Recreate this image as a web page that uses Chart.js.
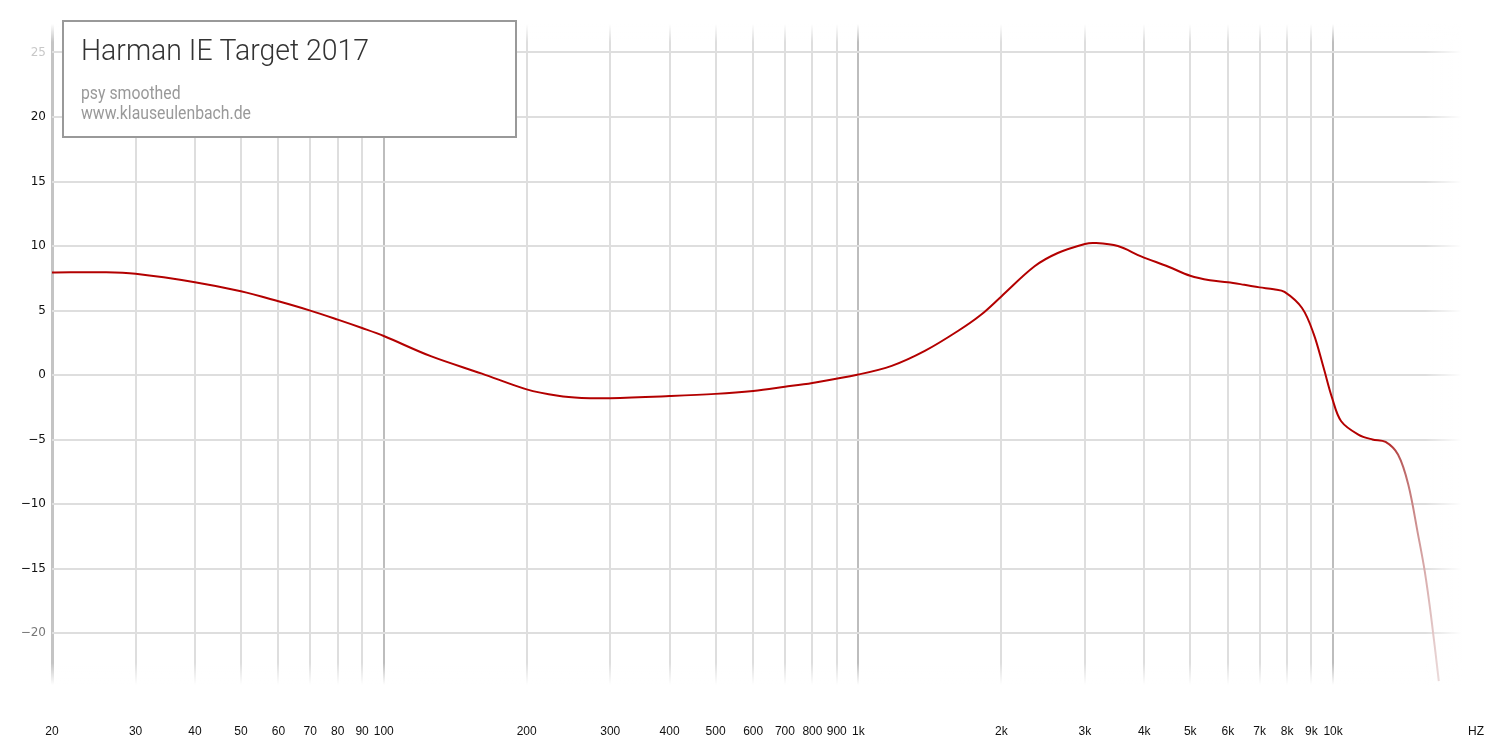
<!DOCTYPE html>
<html>
<head>
<meta charset="utf-8">
<script src="https://cdn.jsdelivr.net/npm/chart.js@4.4.1/dist/chart.umd.min.js"></script>
<style>
  html, body { margin: 0; padding: 0; background: #fff; overflow: hidden; }
  #wrap { width: 1500px; height: 750px; }
  canvas { display: block; }
</style>
</head>
<body>
<div id="wrap"><canvas id="canvas1"></canvas></div>
<script>
// frequency response (Hz / dB)
var freqs = [20, 26, 30, 40, 50, 60, 70, 80, 90, 100, 126, 161, 200, 233, 261, 300, 400, 500, 600, 700, 800,
  1000, 1175, 1380, 1620, 1815, 2000, 2350, 2630, 3000, 3140, 3520, 3940, 4500, 5000, 5500, 6000, 6500, 7000,
  7500, 7900, 8600, 9100, 9550, 9950, 10400, 11300, 12100, 12900, 13700, 14400, 15100, 15600, 16100, 16700];
var gains = [7.95, 7.97, 7.85, 7.2, 6.5, 5.72, 5.0, 4.3, 3.65, 3.03, 1.45, 0.12, -1.1, -1.6, -1.76, -1.78, -1.62, -1.45, -1.22, -0.9, -0.6,
  0.05, 0.72, 1.88, 3.42, 4.7, 6.1, 8.43, 9.46, 10.16, 10.24, 10.0, 9.2, 8.4, 7.7, 7.35, 7.2, 7.0, 6.8,
  6.65, 6.45, 5.2, 3.2, 0.57, -1.76, -3.57, -4.6, -4.98, -5.17, -6.15, -8.47, -12.35, -15.2, -18.8, -23.7];

var xTicks = [20, 30, 40, 50, 60, 70, 80, 90, 100, 200, 300, 400, 500, 600, 700, 800, 900,
  1000, 2000, 3000, 4000, 5000, 6000, 7000, 8000, 9000, 10000, 20000];
var yTicks = [-20, -15, -10, -5, 0, 5, 10, 15, 20, 25];

var title = "Harman IE Target 2017";
var subLines = ["psy smoothed", "www.klauseulenbach.de"];

function xLabel(v) {
  if (v === 20000) return "HZ";
  return v >= 1000 ? (v / 1000) + "k" : String(v);
}

// white fades at the ends of the grid lines
var gridFade = {
  id: 'gridFade',
  beforeDatasetsDraw: function(chart) {
    var c = chart.ctx, a = chart.chartArea, g;
    c.save();
    g = c.createLinearGradient(0, a.top, 0, a.top + 18);
    g.addColorStop(0, 'rgba(255,255,255,1)');
    g.addColorStop(1, 'rgba(255,255,255,0)');
    c.fillStyle = g;
    c.fillRect(a.left - 3, a.top - 2, a.right - a.left + 6, 20);
    g = c.createLinearGradient(0, a.bottom - 22, 0, a.bottom);
    g.addColorStop(0, 'rgba(255,255,255,0)');
    g.addColorStop(1, 'rgba(255,255,255,1)');
    c.fillStyle = g;
    c.fillRect(a.left - 3, a.bottom - 22, a.right - a.left + 6, 24);
    g = c.createLinearGradient(1425, 0, 1462, 0);
    g.addColorStop(0, 'rgba(255,255,255,0)');
    g.addColorStop(1, 'rgba(255,255,255,1)');
    c.fillStyle = g;
    c.fillRect(1425, a.top - 2, 37, a.bottom - a.top + 4);
    c.fillStyle = '#fff';
    c.fillRect(1462, a.top - 2, a.right - 1462 + 4, a.bottom - a.top + 4);
    c.restore();
  }
};

// title box in the upper left corner
var titleBox = {
  id: 'titleBox',
  afterDraw: function(chart) {
    var c = chart.ctx;
    c.save();
    c.fillStyle = '#fff';
    c.fillRect(63, 21, 453, 116);
    c.strokeStyle = '#999';
    c.lineWidth = 2;
    c.strokeRect(63, 21, 453, 116);

    c.fillStyle = '#333';
    c.textBaseline = 'alphabetic';
    c.textAlign = 'left';
    c.font = '300 29px Roboto, "Noto Sans", sans-serif';
    var w = c.measureText(title).width;
    c.save();
    c.translate(81, 60);
    c.scale(288 / w, 1);
    c.fillText(title, 0, 0);
    c.restore();

    c.fillStyle = '#999';
    c.font = '19px "Liberation Sans Narrow", Roboto, sans-serif';
    var w2 = c.measureText(subLines[1]).width;
    var sx = 170 / w2;
    for (var i = 0; i < subLines.length; i++) {
      c.save();
      c.translate(81, 99 + i * 20);
      c.scale(sx, 1);
      c.fillText(subLines[i], 0, 0);
      c.restore();
    }
    c.restore();
  }
};

var ctx = document.getElementById("canvas1").getContext("2d");
window.myLine = new Chart(ctx, {
  type: 'line',
  data: {
    datasets: [{
      data: freqs.map(function(f, i) { return { x: f, y: gains[i] }; }),
      borderColor: function(context) {
        var chart = context.chart;
        if (!chart.chartArea || !chart.scales.x) return '#b30000';
        var x1 = chart.scales.x.getPixelForValue(12500);
        var x2 = chart.scales.x.getPixelForValue(16700);
        var g = chart.ctx.createLinearGradient(x1, 0, x2, 0);
        g.addColorStop(0, '#b30000');
        g.addColorStop(0.35, '#b85a5a');
        g.addColorStop(1, '#eadada');
        return g;
      },
      borderWidth: 2,
      pointRadius: 0,
      fill: false,
      tension: 0.35
    }]
  },
  options: {
    responsive: true,
    maintainAspectRatio: false,
    animation: false,
    layout: { padding: { top: 24, right: 24, left: 0, bottom: 0 } },
    plugins: {
      legend: { display: false },
      tooltip: { enabled: false }
    },
    scales: {
      x: {
        type: 'logarithmic',
        min: 20,
        max: 20000,
        afterBuildTicks: function(axis) {
          axis.ticks = xTicks.map(function(v) { return { value: v }; });
        },
        afterFit: function(axis) {
          axis.height = 65;
          axis.paddingLeft = 0;
          axis.paddingRight = 0;
        },
        border: { display: false },
        grid: {
          drawTicks: false,
          color: function(c) {
            var v = c.tick && c.tick.value;
            if (v === 20000) return 'rgba(0,0,0,0)';
            if (v === 20) return '#c4c4c4';
            if (v === 100 || v === 1000 || v === 10000) return '#bdbdbd';
            return '#dedede';
          },
          lineWidth: function(c) {
            var v = c.tick && c.tick.value;
            return v === 20 ? 3 : 2;
          }
        },
        ticks: {
          autoSkip: false,
          maxRotation: 0,
          padding: 39,
          color: '#111',
          font: { family: '"Liberation Sans", Arial, sans-serif', size: 12 },
          callback: function(v) { return xLabel(v); }
        }
      },
      y: {
        min: -24,
        max: 27.2,
        afterBuildTicks: function(axis) {
          axis.ticks = yTicks.map(function(v) { return { value: v }; });
        },
        afterFit: function(axis) { axis.width = 52; },
        border: { display: false },
        grid: {
          drawTicks: false,
          color: '#dedede',
          lineWidth: 2
        },
        ticks: {
          padding: 6,
          color: function(c) {
            var v = c.tick && c.tick.value;
            if (v === 25) return '#c8c8c8';
            if (v === -20) return '#777';
            return '#111';
          },
          font: { family: '"DejaVu Sans", sans-serif', size: 12 },
          callback: function(v) { return v < 0 ? '\u2212' + Math.abs(v) : String(v); }
        }
      }
    }
  },
  plugins: [gridFade, titleBox]
});
</script>
</body>
</html>
